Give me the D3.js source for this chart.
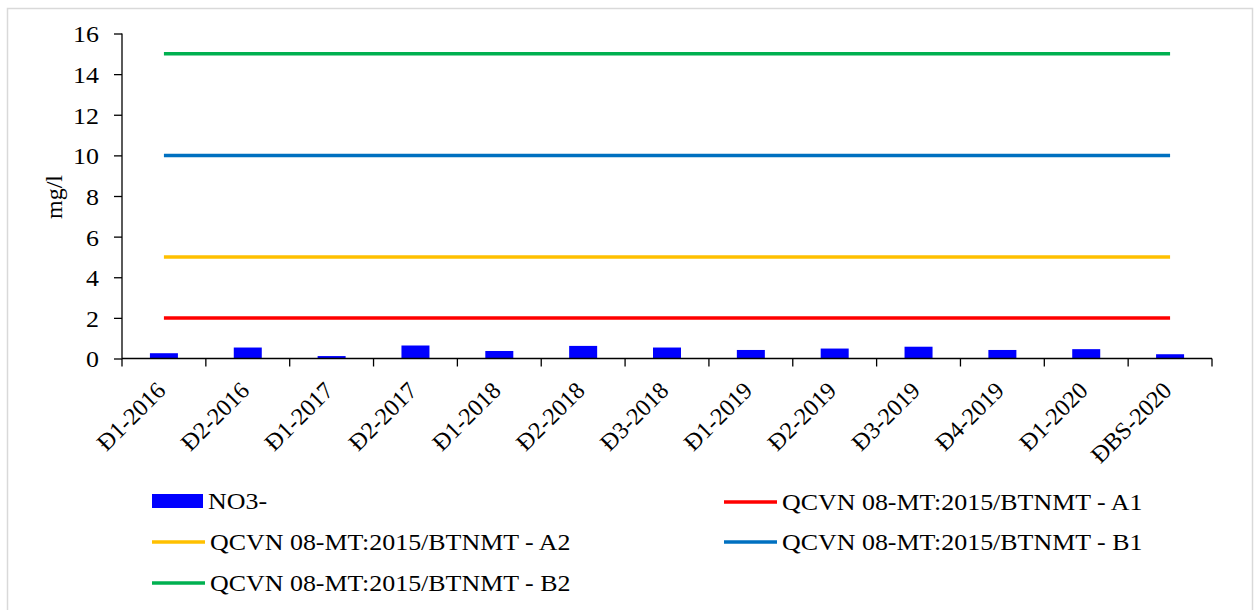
<!DOCTYPE html>
<html>
<head>
<meta charset="utf-8">
<script src="https://cdn.jsdelivr.net/npm/d3@7/dist/d3.min.js"></script>
<style>
  body { margin: 0; background: #fff; }
  text { font-family: "Liberation Serif", "Times New Roman", serif; fill: #000; }
</style>
</head>
<body>
<div id="chart"></div>
<script>
// categories (sampling rounds)
var categories = ["Đ1-2016", "Đ2-2016", "Đ1-2017", "Đ2-2017", "Đ1-2018", "Đ2-2018", "Đ3-2018",
                  "Đ1-2019", "Đ2-2019", "Đ3-2019", "Đ4-2019", "Đ1-2020", "ĐBS-2020"];

// NO3- measured values, mg/l
var no3 = [0.26, 0.54, 0.12, 0.64, 0.37, 0.62, 0.54, 0.42, 0.49, 0.58, 0.42, 0.46, 0.21];

// QCVN 08-MT:2015/BTNMT limits
var limitNames = ["A1", "A2", "B1", "B2"];
var limitValues = [2, 5, 10, 15];

var yTicks = [0, 2, 4, 6, 8, 10, 12, 14, 16];

var width = 1255,
    height = 610;

var colors = { A1: "#ff0000", A2: "#ffc000", B1: "#0070c0", B2: "#00b050" };

// the original text is a bit wider than plain Times
var stretch = 1.08;
function widen(sel) {
  sel.each(function() {
    var w = this.getComputedTextLength();
    d3.select(this).attr("textLength", w * stretch).attr("lengthAdjust", "spacingAndGlyphs");
  });
}

var svg = d3.select("#chart").append("svg")
    .attr("width", width)
    .attr("height", height);

// chart frame
svg.append("rect")
    .attr("x", 7.5).attr("y", 8.5)
    .attr("width", 1245).attr("height", 620)
    .attr("fill", "none")
    .attr("stroke", "#d9d9d9")
    .attr("stroke-width", 1.5);

var x = d3.scaleBand()
    .domain(categories)
    .range([122, 1212]);

var y = d3.scaleLinear()
    .domain([0, 16])
    .range([358.5, 33.5]);

// y axis
var yAxis = svg.append("g")
    .attr("transform", "translate(122,0)")
    .call(d3.axisLeft(y).tickValues(yTicks).tickSize(8).tickPadding(15));
yAxis.selectAll("text").style("font-size", "24px").attr("dy", "0.35em").call(widen);
yAxis.selectAll("line, path").attr("stroke", "#000").attr("stroke-width", 1.3);
yAxis.select(".domain").attr("d", "M0," + y(16) + "V" + y(0));

svg.append("text")
    .attr("transform", "translate(62,197) rotate(-90)")
    .attr("text-anchor", "middle")
    .style("font-size", "24px")
    .text("mg/l");

// bars
var barW = 28;
svg.selectAll(".bar")
    .data(no3)
  .enter().append("rect")
    .attr("class", "bar")
    .attr("x", function(d, i) { return x(categories[i]) + x.bandwidth() / 2 - barW / 2; })
    .attr("y", function(d) { return y(d); })
    .attr("width", barW)
    .attr("height", function(d) { return y(0) - y(d); })
    .attr("fill", "#0000ff");

// x axis
var xAxis = svg.append("g")
    .attr("transform", "translate(0," + y(0) + ")");
xAxis.append("line")
    .attr("x1", 122).attr("x2", 1212)
    .attr("stroke", "#000").attr("stroke-width", 1.3);
var tickPos = categories.map(function(c) { return x(c); }).concat([x.range()[1]]);
xAxis.selectAll(".xtick")
    .data(tickPos)
  .enter().append("line")
    .attr("class", "xtick")
    .attr("x1", function(d) { return d; }).attr("x2", function(d) { return d; })
    .attr("y1", 0).attr("y2", 8)
    .attr("stroke", "#000").attr("stroke-width", 1.3);
xAxis.selectAll(".xlabel")
    .data(categories)
  .enter().append("text")
    .attr("class", "xlabel")
    .attr("text-anchor", "end")
    .style("font-size", "24px")
    .attr("transform", function(d) {
      return "translate(" + (x(d) + x.bandwidth() / 2 + 3) + ",33.5) rotate(-45)";
    })
    .text(function(d) { return d; });

// limit lines
var line = d3.line()
    .x(function(d) { return x(d) + x.bandwidth() / 2; });

limitNames.forEach(function(name, k) {
  svg.append("path")
      .datum(categories)
      .attr("d", line.y(function() { return y(limitValues[k]); }))
      .attr("fill", "none")
      .attr("stroke", colors[name])
      .attr("stroke-width", 3.5);
});

// legend
var legendItems = [
  { label: "NO3-", type: "bar", color: "#0000ff", x: 152, y: 501 },
  { label: "QCVN 08-MT:2015/BTNMT - A1", type: "line", color: colors.A1, x: 724, y: 502 },
  { label: "QCVN 08-MT:2015/BTNMT - A2", type: "line", color: colors.A2, x: 152, y: 542 },
  { label: "QCVN 08-MT:2015/BTNMT - B1", type: "line", color: colors.B1, x: 724, y: 542 },
  { label: "QCVN 08-MT:2015/BTNMT - B2", type: "line", color: colors.B2, x: 152, y: 583 }
];

var legend = svg.selectAll(".legend")
    .data(legendItems)
  .enter().append("g")
    .attr("class", "legend")
    .attr("transform", function(d) { return "translate(" + d.x + "," + d.y + ")"; });

legend.filter(function(d) { return d.type === "bar"; })
  .append("rect")
    .attr("x", 0).attr("y", -7)
    .attr("width", 51).attr("height", 14)
    .attr("fill", function(d) { return d.color; });

legend.filter(function(d) { return d.type === "line"; })
  .append("line")
    .attr("x1", 0).attr("x2", 53)
    .attr("stroke", function(d) { return d.color; })
    .attr("stroke-width", 3.5);

legend.append("text")
    .attr("x", function(d) { return d.type === "bar" ? 56 : 58; })
    .attr("dy", "0.35em")
    .style("font-size", "24px")
    .text(function(d) { return d.label; })
    .call(widen);
</script>
</body>
</html>
